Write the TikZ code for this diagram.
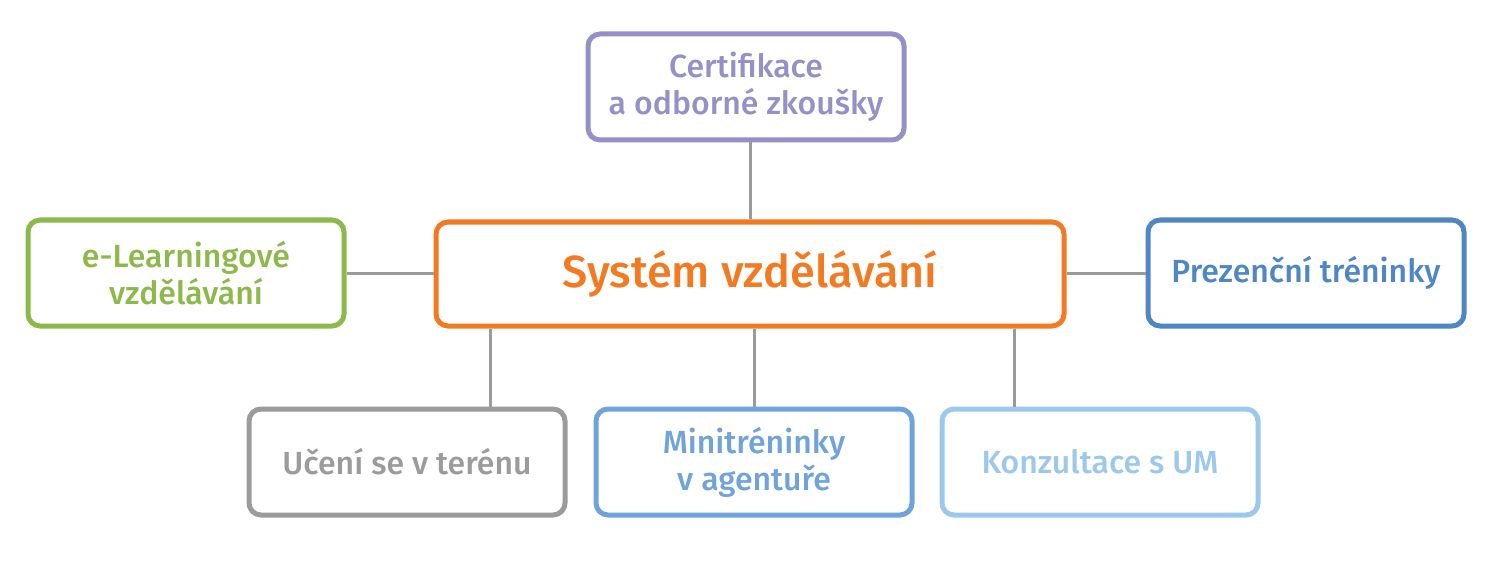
\documentclass[tikz,border=0pt]{standalone}
\usepackage{fontspec}
\setmainfont{Fira Sans}[BoldFont={* Medium}]
\definecolor{cpurple}{HTML}{9590C8}
\definecolor{corange}{HTML}{F37A21}
\definecolor{cgreen}{HTML}{8DB84A}
\definecolor{cblue}{HTML}{4F86C6}
\definecolor{cgray}{HTML}{9B9B9B}
\definecolor{cmid}{HTML}{6FA3DA}
\definecolor{clight}{HTML}{9CC8EC}
\definecolor{cline}{HTML}{9A9A9A}
\begin{document}
\begin{tikzpicture}[x=1pt,y=-1pt,
  boxstyle/.style={draw, line width=5pt, rounded corners=12pt, fill=white,
    minimum width=316pt, minimum height=106pt, align=center,
    font=\fontsize{32}{37}\selectfont\bfseries, inner sep=0pt},
  mainbox/.style={boxstyle, minimum width=628pt, minimum height=104pt,
    font=\fontsize{45}{52}\selectfont\bfseries},
  conn/.style={draw=cline, line width=3pt}]
\useasboundingbox (0,0) rectangle (1496,564);
\node[mainbox, draw=corange, text=corange] (sys) at (750,274) {Systém vzdělávání};
\node[boxstyle, draw=cpurple, text=cpurple] (cert) at (746,87) {Certifikace\\a odborné zkoušky};
\node[boxstyle, draw=cgreen, text=cgreen] (elearn) at (186,273) {e-Learningové\\vzdělávání};
\node[boxstyle, draw=cblue, text=cblue] (prez) at (1306,273) {Prezenční tréninky};
\node[boxstyle, draw=cgray, text=cgray] (uceni) at (407,462) {Učení se v terénu};
\node[boxstyle, draw=cmid, text=cmid] (mini) at (754,462) {Minitréninky\\v agentuře};
\node[boxstyle, draw=clight, text=clight] (konz) at (1100,462) {Konzultace s UM};
\draw[conn] (cert.south -| sys.north) -- (sys.north);
\draw[conn] (elearn.east) -- (elearn.east -| sys.west);
\draw[conn] (sys.east |- prez.west) -- (prez.west);
\draw[conn] (uceni.north -| 490,0) -- (sys.south -| 490,0);
\draw[conn] (mini.north) -- (mini.north |- sys.south);
\draw[conn] (konz.north -| 1014,0) -- (sys.south -| 1014,0);
\end{tikzpicture}
\end{document}
